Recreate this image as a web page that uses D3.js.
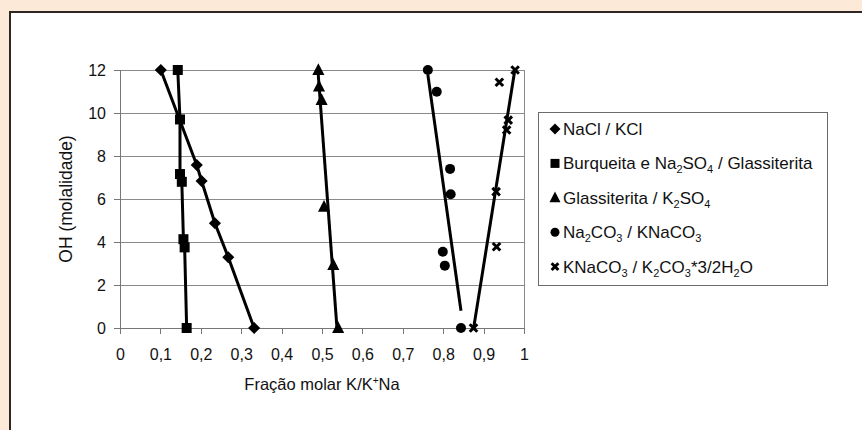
<!DOCTYPE html>
<html><head><meta charset="utf-8">
<script src="https://cdn.jsdelivr.net/npm/d3@7"></script>
<style>body{margin:0;background:#fff}svg{display:block}text{font-family:"Liberation Sans",Arial,sans-serif;fill:#111}</style>
</head><body><div id="chart"></div>
<script>
// ---- data ----
const xTickValues = [0,0.1,0.2,0.3,0.4,0.5,0.6,0.7,0.8,0.9,1];
const yTickValues = [0,2,4,6,8,10,12];
const xTitle = "Fração molar K/K+Na";
const yTitle = "OH (molalidade)";

const naclX = [0.101,0.190,0.202,0.235,0.268,0.332];
const naclY = [12,7.58,6.84,4.87,3.29,0];
const burqX = [0.143,0.1485,0.1485,0.153,0.157,0.160,0.165];
const burqY = [12,9.7,7.16,6.8,4.13,3.75,0];
const glassX = [0.491,0.4926,0.499,0.505,0.528,0.540];
const glassY = [12,11.23,10.6,5.64,2.93,0];
const na2co3X = [0.762,0.784,0.817,0.8185,0.799,0.804,0.844];
const na2co3Y = [12,10.99,7.4,6.22,3.55,2.9,0];
const knaX = [0.978,0.939,0.961,0.957,0.931,0.932,0.875];
const knaY = [12,11.43,9.67,9.21,6.34,3.78,0];

// legend labels: arrays of [text, mode] where mode: n normal, b sub, p super
const legendLabels = [
  [["NaCl / KCl","n"]],
  [["Burqueita e Na","n"],["2","b"],["SO","n"],["4","b"],[" / Glassiterita","n"]],
  [["Glassiterita / K","n"],["2","b"],["SO","n"],["4","b"]],
  [["Na","n"],["2","b"],["CO","n"],["3","b"],[" / KNaCO","n"],["3","b"]],
  [["KNaCO","n"],["3","b"],[" / K","n"],["2","b"],["CO","n"],["3","b"],["*3/2H","n"],["2","b"],["O","n"]]
];
const seriesMarkers = ["diamond","square","triangle","circle","x"];

// ---- layout ----
const W = 862, H = 430;
const svg = d3.select("#chart").append("svg").attr("width", W).attr("height", H);
svg.append("rect").attr("width", W).attr("height", H).attr("fill", "#fde9d8");
svg.append("rect").attr("x", 10).attr("y", 12).attr("width", W + 10).attr("height", H + 10)
  .attr("fill", "#fff").attr("stroke", "#2e2622").attr("stroke-width", 2);

const x = d3.scaleLinear().domain([0,1]).range([120,524]);
const y = d3.scaleLinear().domain([0,12]).range([328,70]);

// gridlines
svg.append("g").selectAll("line").data(yTickValues.filter(d => d > 0)).join("line")
  .attr("x1", x(0)).attr("x2", x(1)).attr("y1", d => y(d)).attr("y2", d => y(d))
  .attr("stroke", "#8a8a8a").attr("stroke-width", 1).attr("shape-rendering","crispEdges");
svg.append("line").attr("x1", x(1)).attr("x2", x(1)).attr("y1", y(0)).attr("y2", y(12))
  .attr("stroke", "#8a8a8a").attr("shape-rendering","crispEdges");

const fmt = d => String(d).replace(".", ",");
const xAxis = svg.append("g").attr("transform", `translate(0,${y(0)})`)
  .call(d3.axisBottom(x).tickValues(xTickValues).tickFormat(fmt).tickSize(6).tickPadding(15));
const yAxis = svg.append("g").attr("transform", `translate(${x(0)},0)`)
  .call(d3.axisLeft(y).tickValues(yTickValues).tickFormat(fmt).tickSize(6).tickPadding(8));
[xAxis, yAxis].forEach(a => {
  a.attr("font-family", null);
  a.select(".domain").attr("stroke", "#777").attr("shape-rendering","crispEdges");
  a.selectAll(".tick line").attr("stroke", "#777").attr("shape-rendering","crispEdges");
  a.selectAll("text").style("font-size", "16px").attr("fill", "#111");
});

// axis titles
const xt = svg.append("text").attr("x", (x(0)+x(1))/2).attr("y", 389.5).attr("text-anchor","middle").style("font-size","16.5px");
xt.append("tspan").text("Fração molar K/K");
xt.append("tspan").text("+").style("font-size","10px").attr("dy", -6);
xt.append("tspan").text("Na").attr("dy", 6);
svg.append("text").attr("transform", `translate(72,${(y(0)+y(12))/2}) rotate(-90)`)
  .attr("text-anchor","middle").style("font-size","17.5px").text(yTitle);

// markers
function drawMarker(g, type, cx, cy, s) {
  if (type === "diamond") {
    g.append("path").attr("d", `M${cx},${cy-s*0.55}L${cx+s*0.55},${cy}L${cx},${cy+s*0.55}L${cx-s*0.55},${cy}Z`).attr("fill","#000");
  } else if (type === "square") {
    g.append("rect").attr("x", cx - s/2).attr("y", cy - s/2).attr("width", s).attr("height", s).attr("fill","#000");
  } else if (type === "triangle") {
    g.append("path").attr("d", `M${cx},${cy-s*0.62}L${cx+s*0.55},${cy+s*0.45}L${cx-s*0.55},${cy+s*0.45}Z`).attr("fill","#000");
  } else if (type === "circle") {
    g.append("circle").attr("cx", cx).attr("cy", cy).attr("r", s/2).attr("fill","#000");
  } else if (type === "x") {
    const h = s*0.42;
    g.append("path").attr("d", `M${cx-h},${cy-h}L${cx+h},${cy+h}M${cx+h},${cy-h}L${cx-h},${cy+h}`)
      .attr("stroke","#000").attr("stroke-width",3).attr("fill","none");
  }
}

const line = d3.line().x(d => x(d[0])).y(d => y(d[1]));
const zip = (a, b) => a.map((v, i) => [v, b[i]]);
const plot = svg.append("g");
const lineStyle = sel => sel.attr("fill","none").attr("stroke","#000").attr("stroke-width",3).attr("stroke-linejoin","round");

// series 1 & 2: connected lines
plot.append("path").datum(zip(naclX, naclY)).attr("d", line).call(lineStyle);
plot.append("path").datum(zip(burqX, burqY)).attr("d", line).call(lineStyle);

// linear fits (trend lines)
function fitYonX(xs, ys) {
  const mx = d3.mean(xs), my = d3.mean(ys);
  const b = d3.sum(xs.map((v,i) => (v-mx)*(ys[i]-my))) / d3.sum(xs.map(v => (v-mx)**2));
  const [x0, x1] = d3.extent(xs);
  return [[x0, my + b*(x0-mx)], [x1, my + b*(x1-mx)]];
}
function fitXonY(xs, ys) {
  const mx = d3.mean(xs), my = d3.mean(ys);
  const b = d3.sum(xs.map((v,i) => (v-mx)*(ys[i]-my))) / d3.sum(ys.map(v => (v-my)**2));
  const [y0, y1] = d3.extent(ys);
  return [[mx + b*(y0-my), y0], [mx + b*(y1-my), y1]];
}
plot.append("path").datum(fitXonY(glassX, glassY)).attr("d", line).call(lineStyle);
plot.append("path").datum(fitYonX(na2co3X, na2co3Y)).attr("d", line).call(lineStyle);
plot.append("path").datum(fitYonX(knaX, knaY)).attr("d", line).call(lineStyle);

const allSeries = [[naclX,naclY],[burqX,burqY],[glassX,glassY],[na2co3X,na2co3Y],[knaX,knaY]];
const sizes = [11, 10, 11, 10, 9];
allSeries.forEach((s, k) => {
  s[0].forEach((v, i) => drawMarker(plot, seriesMarkers[k], x(v), y(s[1][i]), sizes[k]));
});

// legend
const lg = svg.append("g");
lg.append("rect").attr("x", 538.5).attr("y", 112.5).attr("width", 289).attr("height", 173)
  .attr("fill","#fff").attr("stroke","#6a6a6a").attr("stroke-width",1);
const legSizes = [10, 9, 10, 9, 8];
legendLabels.forEach((parts, i) => {
  const cy = 129 + i * 34.4;
  drawMarker(lg, seriesMarkers[i], 555, cy, legSizes[i]);
  const t = lg.append("text").attr("x", 563).attr("y", cy + 6).style("font-size","17px");
  let shift = 0;
  parts.forEach(([txt, mode]) => {
    const sp = t.append("tspan").text(txt);
    const target = mode === "b" ? 4 : (mode === "p" ? -6 : 0);
    sp.attr("dy", target - shift);
    if (mode !== "n") sp.style("font-size","11px");
    shift = target;
  });
});
</script></body></html>
